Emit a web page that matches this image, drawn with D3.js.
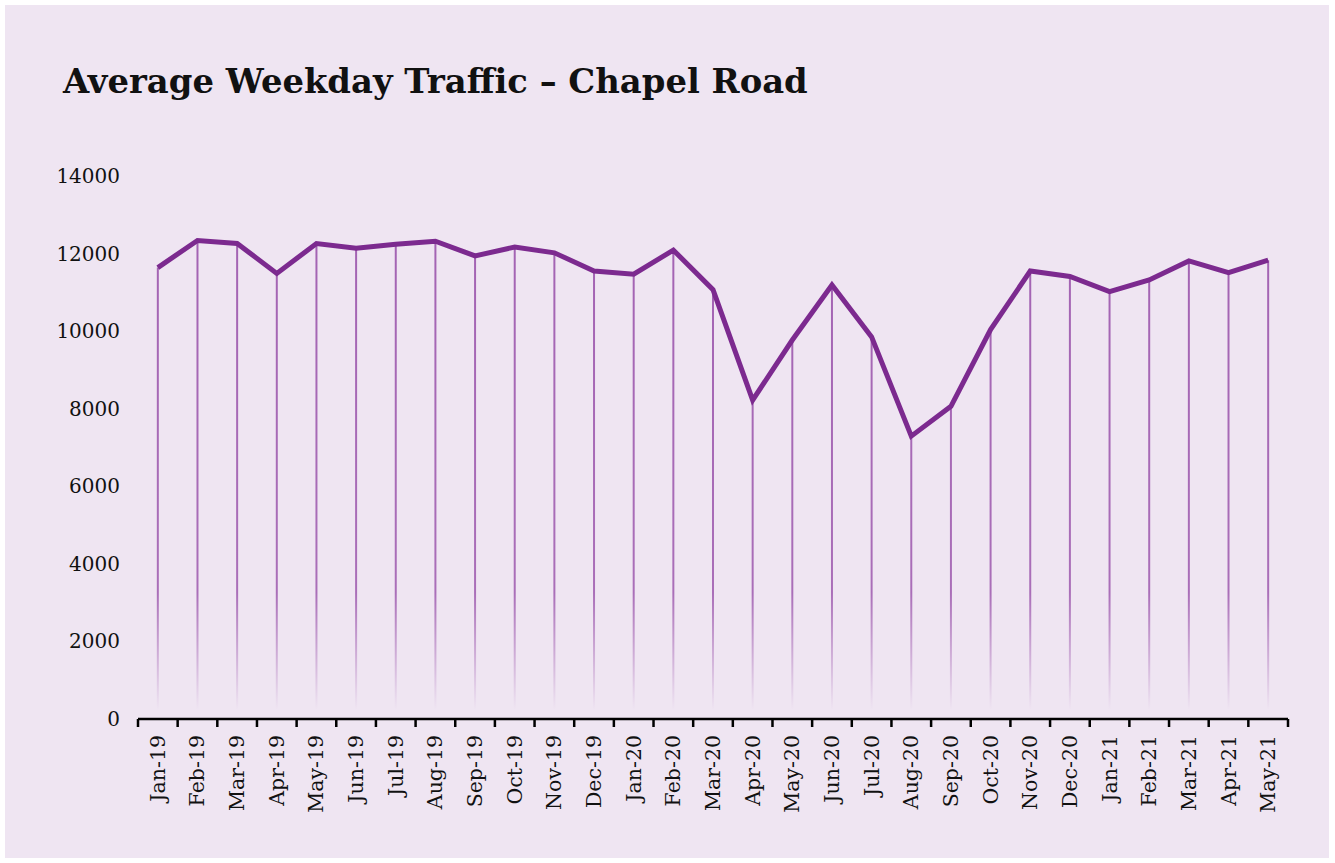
<!DOCTYPE html>
<html>
<head>
<meta charset="utf-8">
<title>Average Weekday Traffic</title>
<script src="https://d3js.org/d3.v7.min.js"></script>
<style>
  body { margin: 0; background: #fff; }
  text { font-family: "DejaVu Serif", serif; }
</style>
</head>
<body>
<script>
// data
var months = ["Jan-19","Feb-19","Mar-19","Apr-19","May-19","Jun-19","Jul-19","Aug-19","Sep-19","Oct-19","Nov-19","Dec-19",
              "Jan-20","Feb-20","Mar-20","Apr-20","May-20","Jun-20","Jul-20","Aug-20","Sep-20","Oct-20","Nov-20","Dec-20",
              "Jan-21","Feb-21","Mar-21","Apr-21","May-21"];
var traffic = [11650, 12350, 12270, 11500, 12270, 12150, 12250, 12330, 11950, 12180, 12030, 11560,
               11480, 12100, 11080, 8230, 9780, 11200, 9860, 7300, 8070, 10050, 11560, 11420,
               11030, 11330, 11820, 11520, 11840];
var yTicks = [0, 2000, 4000, 6000, 8000, 10000, 12000, 14000];

var width = 1335, height = 863;
var plotLeft = 138, plotRight = 1288, plotTop = 176.5, plotBottom = 719;

var svg = d3.select("body").append("svg")
  .attr("width", width)
  .attr("height", height);

svg.append("rect")
  .attr("x", 5).attr("y", 5)
  .attr("width", 1324).attr("height", 853)
  .attr("fill", "#efe5f2");

// fading drop lines
var defs = svg.append("defs");
var grad = defs.append("linearGradient")
  .attr("id", "drop")
  .attr("gradientUnits", "userSpaceOnUse")
  .attr("x1", 0).attr("x2", 0)
  .attr("y1", plotTop).attr("y2", 710);
grad.append("stop").attr("offset", "0%").attr("stop-color", "#a261b2").attr("stop-opacity", 1);
grad.append("stop").attr("offset", "78%").attr("stop-color", "#a261b2").attr("stop-opacity", 0.9);
grad.append("stop").attr("offset", "100%").attr("stop-color", "#a261b2").attr("stop-opacity", 0);

// title
var title = svg.append("text")
  .attr("x", 63).attr("y", 93)
  .attr("font-size", 34)
  .attr("font-weight", "bold")
  .attr("fill", "#111")
  .text("Average Weekday Traffic \u2013 Chapel Road");
var tl = title.node().getComputedTextLength();
title.attr("font-size", 34 * 745 / tl);

var x = d3.scaleBand().domain(months).range([plotLeft, plotRight]);
var y = d3.scaleLinear().domain([0, 14000]).range([plotBottom, plotTop]);

// y axis labels only
var yAxis = svg.append("g")
  .attr("transform", "translate(" + plotLeft + ",0)")
  .call(d3.axisLeft(y).tickValues(yTicks).tickSize(0).tickPadding(18).tickFormat(d3.format("d")));
yAxis.select(".domain").remove();
yAxis.selectAll("text").attr("font-size", 20).attr("fill", "#111")
  .style("font-family", "DejaVu Serif, serif");

// drop lines
svg.append("g").selectAll("line")
  .data(traffic)
  .join("line")
  .attr("x1", function(d, i) { return x(months[i]) + x.bandwidth() / 2; })
  .attr("x2", function(d, i) { return x(months[i]) + x.bandwidth() / 2; })
  .attr("y1", function(d) { return y(d); })
  .attr("y2", 710)
  .attr("stroke", "url(#drop)")
  .attr("stroke-width", 2);

// main line
var line = d3.line()
  .x(function(d, i) { return x(months[i]) + x.bandwidth() / 2; })
  .y(function(d) { return y(d); });

svg.append("path")
  .datum(traffic)
  .attr("d", line)
  .attr("fill", "none")
  .attr("stroke", "#7c2a8f")
  .attr("stroke-width", 5)
  .attr("stroke-linejoin", "miter");

// x axis with ticks between categories
var xAxis = svg.append("g")
  .attr("transform", "translate(0," + plotBottom + ")");
xAxis.append("line")
  .attr("x1", plotLeft).attr("x2", plotRight)
  .attr("stroke", "#000").attr("stroke-width", 2.5);
var edges = months.map(function(m) { return x(m); }).concat([plotRight]);
xAxis.selectAll(".tk")
  .data(edges)
  .join("line")
  .attr("class", "tk")
  .attr("x1", function(d) { return d; }).attr("x2", function(d) { return d; })
  .attr("y1", 0).attr("y2", 8)
  .attr("stroke", "#000").attr("stroke-width", 2.5);
xAxis.selectAll(".lbl")
  .data(months)
  .join("text")
  .attr("class", "lbl")
  .attr("text-anchor", "end")
  .attr("font-size", 20.5)
  .attr("fill", "#111")
  .attr("transform", function(d) {
    return "translate(" + (x(d) + x.bandwidth() / 2 + 7) + ",16) rotate(-90)";
  })
  .text(function(d) { return d; });
</script>
</body>
</html>
